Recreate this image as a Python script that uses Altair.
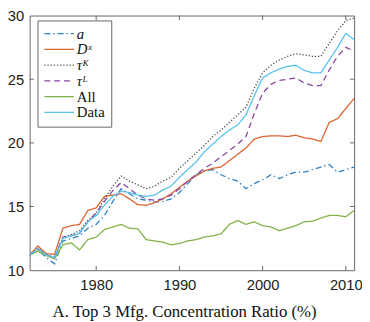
import altair as alt
import pandas as pd

years = [1972, 1973, 1974, 1975, 1976, 1977, 1978, 1979, 1980, 1981,
         1982, 1983, 1984, 1985, 1986, 1987, 1988, 1989, 1990, 1991,
         1992, 1993, 1994, 1995, 1996, 1997, 1998, 1999, 2000, 2001,
         2002, 2003, 2004, 2005, 2006, 2007, 2008, 2009, 2010, 2011]

series_names = ["a", "Dˣ", "τᴷ", "τᴸ", "All", "Data"]

a_vals = [11.2, 11.6, 11.0, 10.5, 12.3, 12.5, 12.7, 13.3, 13.6, 14.3,
          15.4, 16.4, 16.0, 15.6, 15.5, 15.35, 15.4, 15.6, 16.1, 16.8,
          17.5, 17.8, 17.9, 17.5, 17.2, 17.0, 16.4, 16.8, 17.1, 17.5,
          17.2, 17.5, 17.7, 17.7, 17.9, 18.1, 18.3, 17.7, 17.9, 18.1]
dx_vals = [11.2, 11.9, 11.3, 11.25, 13.3, 13.5, 13.6, 14.7, 14.9, 15.8,
           15.9, 16.0, 15.6, 15.15, 15.1, 15.3, 15.6, 16.0, 16.5, 17.0,
           17.4, 17.8, 18.0, 18.1, 18.6, 19.1, 19.6, 20.3, 20.5, 20.55,
           20.55, 20.5, 20.6, 20.4, 20.3, 20.1, 21.6, 21.9, 22.7, 23.5]
tk_vals = [11.2, 11.7, 11.2, 11.0, 12.6, 12.8, 13.1, 13.9, 14.5, 15.6,
           16.6, 17.4, 17.0, 16.7, 16.4, 16.6, 17.0, 17.3, 18.0, 18.6,
           19.2, 19.8, 20.5, 21.0, 21.6, 22.2, 22.8, 24.3, 25.5, 26.1,
           26.5, 26.8, 27.0, 26.9, 26.8, 26.8, 27.8, 28.8, 29.6, 29.8]
tl_vals = [11.2, 11.7, 11.2, 11.0, 12.6, 12.7, 12.9, 13.8, 14.5, 15.4,
           16.25, 16.9, 16.4, 15.9, 15.6, 15.5, 15.6, 15.9, 16.4, 17.0,
           17.5, 18.0, 18.4, 18.9, 19.4, 19.9, 20.5, 22.3, 23.9, 24.6,
           24.9, 25.0, 25.1, 24.7, 24.5, 24.5, 25.7, 26.8, 27.5, 27.2]
all_vals = [11.2, 11.5, 11.15, 10.9, 12.0, 12.15, 11.6, 12.4, 12.6, 13.2,
            13.4, 13.6, 13.3, 13.25, 12.4, 12.3, 12.2, 12.0, 12.1, 12.3,
            12.4, 12.6, 12.7, 12.85, 13.6, 13.9, 13.6, 13.8, 13.5, 13.4,
            13.1, 13.3, 13.5, 13.8, 13.85, 14.1, 14.3, 14.3, 14.2, 14.7]
data_vals = [11.2, 11.7, 11.2, 11.0, 12.5, 12.7, 12.9, 13.8, 14.3, 15.1,
             15.8, 16.2, 16.1, 15.9, 15.8, 15.9, 16.3, 16.6, 17.3, 17.9,
             18.5, 19.3, 19.9, 20.5, 21.0, 21.4, 22.2, 23.7, 25.1, 25.5,
             25.8, 26.0, 26.1, 25.7, 25.5, 25.5, 26.5, 27.5, 28.6, 28.1]

x_ticks = [1980, 1990, 2000, 2010]
y_ticks = [10, 15, 20, 25, 30]
x_domain = [1972, 2011]
y_domain = [10, 30]

colors = ["#2f80c2", "#dc6430", "#444444", "#8a45a0", "#80b347", "#58c2ee"]
dashes = [[6, 3, 1.5, 3], [1, 0], [1.2, 2], [6, 4], [1, 0], [1, 0]]

rows = []
for name, vals in zip(series_names,
                      [a_vals, dx_vals, tk_vals, tl_vals, all_vals, data_vals]):
    for yr, v in zip(years, vals):
        rows.append({"year": yr, "value": v, "series": name})
df = pd.DataFrame(rows)

# inward tick marks (MATLAB style box)
tick_rows = []
for t in x_ticks:
    tick_rows.append({"x": t, "x2": t, "y": y_domain[0], "y2": y_domain[0] + 0.35})
    tick_rows.append({"x": t, "x2": t, "y": y_domain[1], "y2": y_domain[1] - 0.35})
for t in y_ticks[1:-1]:
    tick_rows.append({"x": x_domain[0], "x2": x_domain[0] + 0.5, "y": t, "y2": t})
    tick_rows.append({"x": x_domain[1], "x2": x_domain[1] - 0.5, "y": t, "y2": t})
ticks_df = pd.DataFrame(tick_rows)

xscale = alt.Scale(domain=x_domain, nice=False, zero=False)
yscale = alt.Scale(domain=y_domain, nice=False, zero=False)

legend = alt.Legend(
    title=None, orient="none", legendX=8, legendY=5,
    strokeColor="#666666", fillColor="white", padding=6,
    symbolType="stroke", symbolSize=900, symbolStrokeWidth=1.3,
    labelFont="Liberation Serif", labelFontSize=15, labelColor="#111111",
    rowPadding=0, clipHeight=15, labelOffset=2, cornerRadius=0,
    labelFontStyle=alt.ExprRef("datum.label == 'All' || datum.label == 'Data' ? 'normal' : 'italic'"),
)

lines = alt.Chart(df).mark_line(strokeWidth=1.3, clip=True).encode(
    x=alt.X("year:Q", scale=xscale,
            axis=alt.Axis(values=x_ticks, format="d",
                          title="A. Top 3 Mfg. Concentration Ratio (%)",
                          titleFont="Liberation Serif", titleFontSize=17,
                          titleFontWeight="normal", titleColor="#111111",
                          titlePadding=11, titleX=157, titleAlign="center",
                          labelPadding=8)),
    y=alt.Y("value:Q", scale=yscale,
            axis=alt.Axis(values=y_ticks, title=None, labelPadding=6)),
    color=alt.Color("series:N", scale=alt.Scale(domain=series_names, range=colors),
                    legend=legend),
    strokeDash=alt.StrokeDash("series:N", scale=alt.Scale(domain=series_names, range=dashes),
                              legend=legend),
)

ticks = alt.Chart(ticks_df).mark_rule(color="#666666", strokeWidth=1).encode(
    x=alt.X("x:Q", scale=xscale), x2="x2:Q",
    y=alt.Y("y:Q", scale=yscale), y2="y2:Q",
)

chart = alt.layer(lines, ticks).properties(
    width=330, height=259,
    autosize=alt.AutoSizeParams(type="none"),
    padding={"left": 22, "top": 5, "right": 8, "bottom": 50},
).configure_view(
    stroke="#666666", strokeWidth=1
).configure_axis(
    grid=False, domain=False, ticks=False,
    labelFont="Liberation Sans", labelFontSize=15, labelColor="#222222",
)

chart.save("out.html", embed_options={"renderer": "svg", "actions": False})
